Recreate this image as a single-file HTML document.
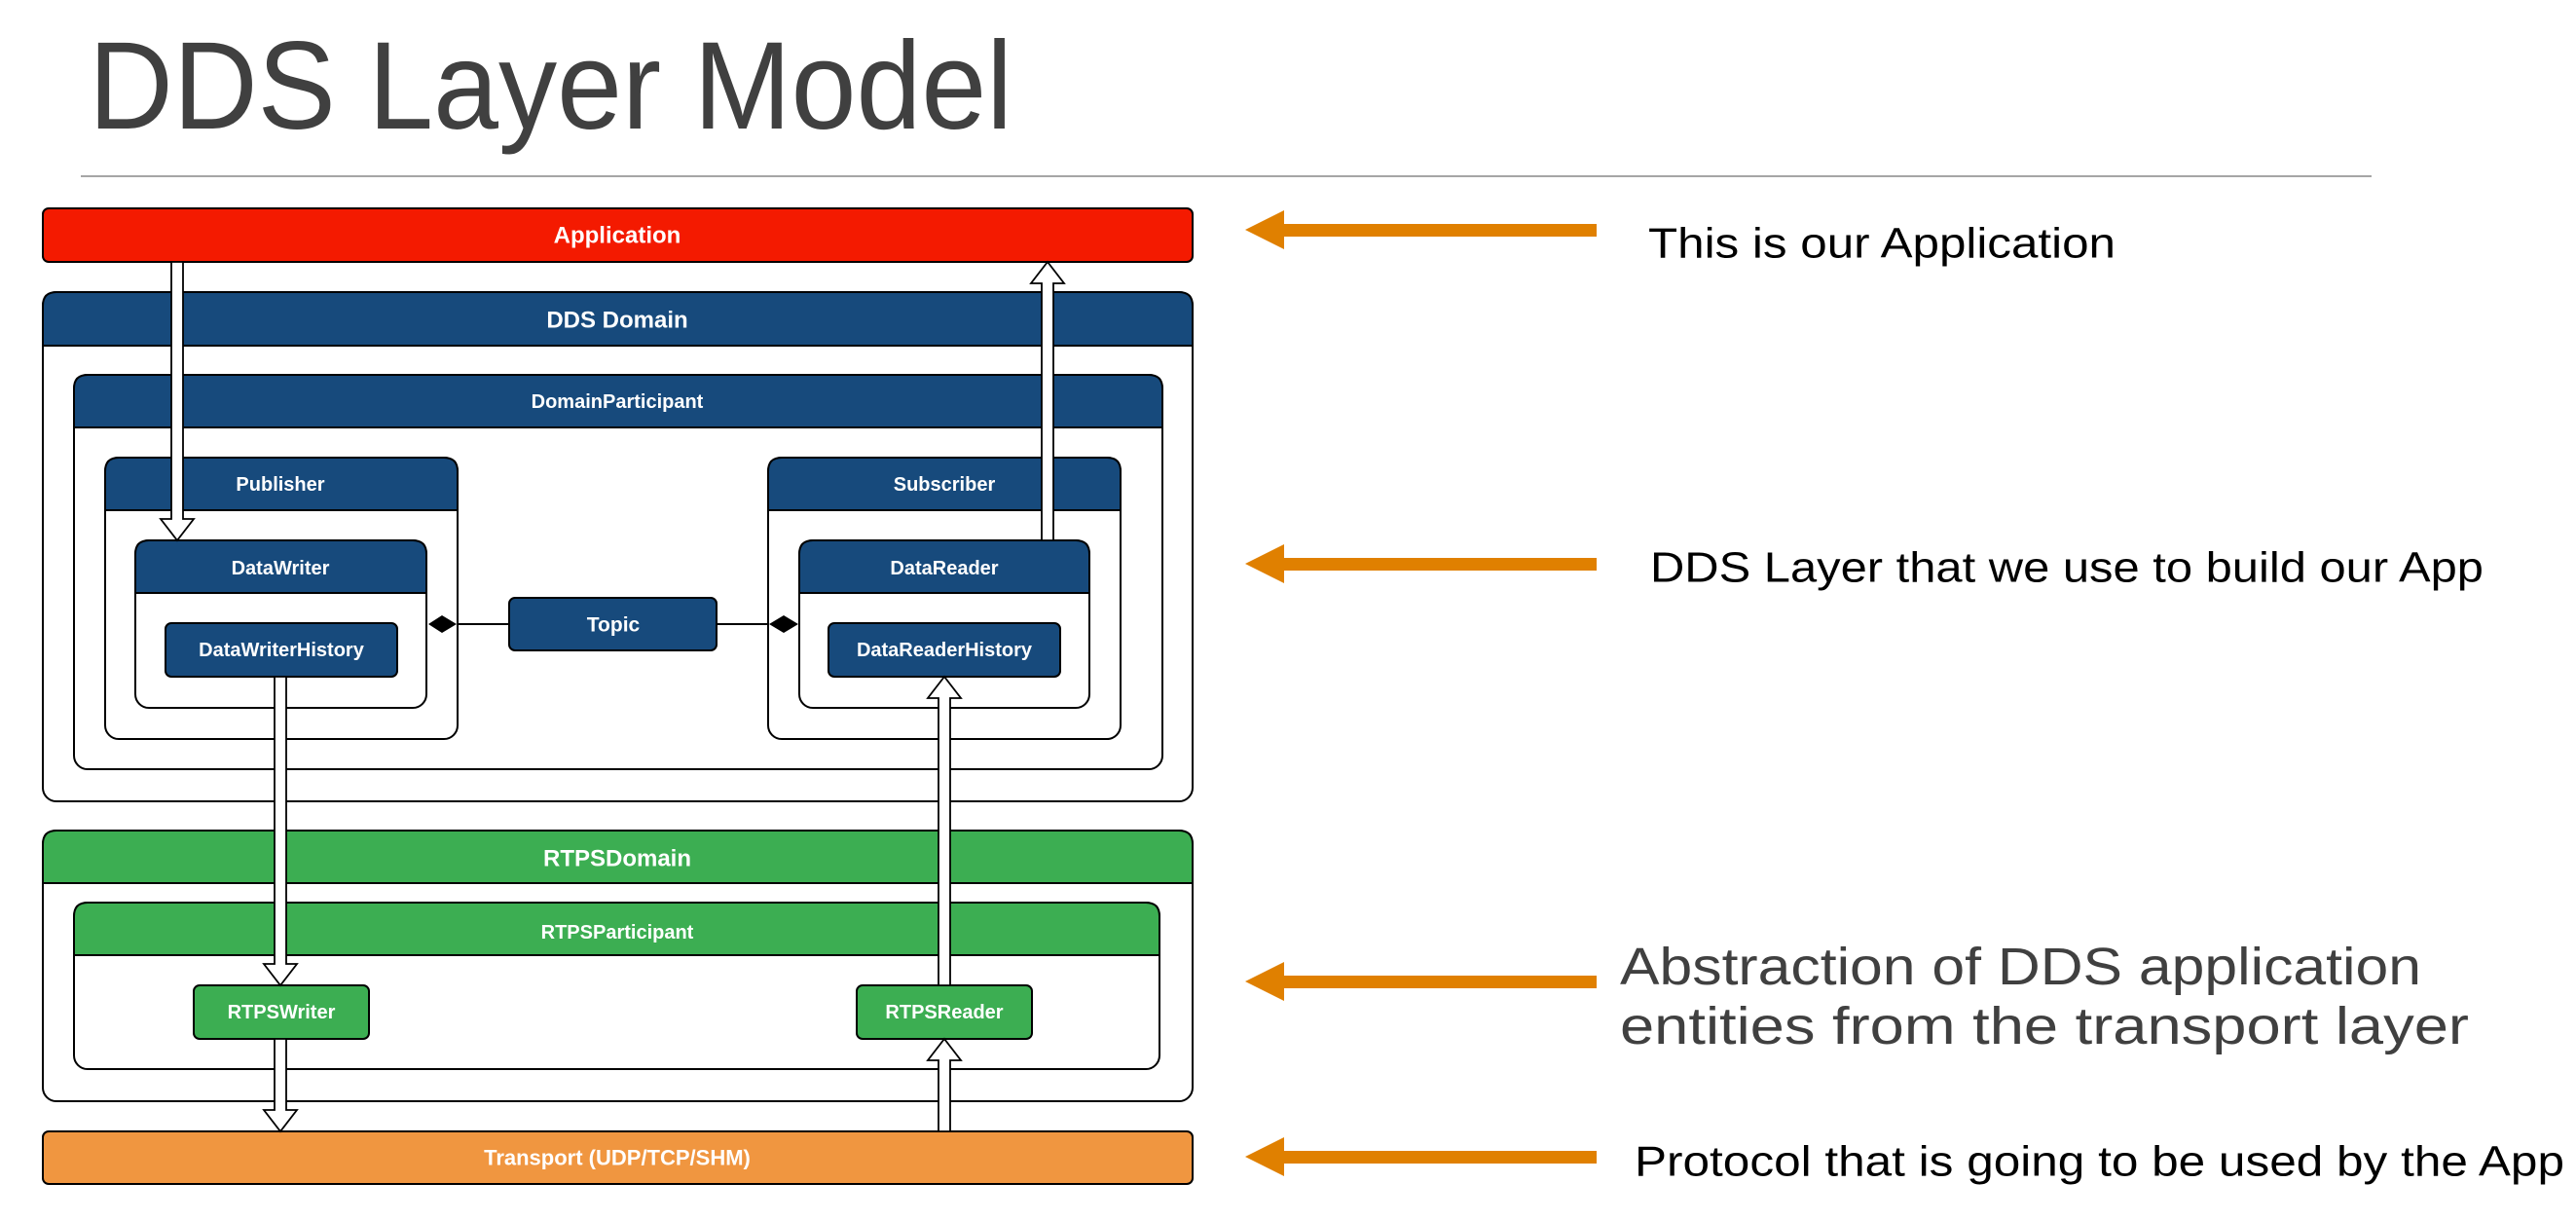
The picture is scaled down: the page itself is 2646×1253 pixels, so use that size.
<!DOCTYPE html>
<html><head><meta charset="utf-8"><style>
html,body{margin:0;padding:0;background:#fff;}
svg{display:block;}
.h{font-family:"Liberation Sans",Arial,sans-serif;font-weight:bold;fill:#fff;text-anchor:middle;dominant-baseline:central;}
.r{font-family:"Liberation Sans",sans-serif;}
</style></head><body>
<svg width="2646" height="1253" viewBox="0 0 2646 1253" xmlns="http://www.w3.org/2000/svg">
<text x="91" y="132" class="r" font-size="128" fill="#404040" textLength="949" lengthAdjust="spacingAndGlyphs">DDS Layer Model</text>
<line x1="83" y1="181" x2="2436" y2="181" stroke="#a6a6a6" stroke-width="2"/>

<g stroke="#000" stroke-width="2">
<rect x="44" y="214" width="1181" height="55" rx="6" fill="#f41a00"/>
<!-- DDS Domain -->
<rect x="44" y="300" width="1181" height="523" rx="14" fill="#fff"/>
<path d="M44 355 V314 Q44 300 58 300 H1211 Q1225 300 1225 314 V355 Z" fill="#174a7c"/>
<rect x="76" y="385" width="1118" height="405" rx="14" fill="#fff"/>
<path d="M76 439 V399 Q76 385 90 385 H1180 Q1194 385 1194 399 V439 Z" fill="#174a7c"/>
<rect x="108" y="470" width="362" height="289" rx="14" fill="#fff"/>
<path d="M108 524 V484 Q108 470 122 470 H456 Q470 470 470 484 V524 Z" fill="#174a7c"/>
<rect x="789" y="470" width="362" height="289" rx="14" fill="#fff"/>
<path d="M789 524 V484 Q789 470 803 470 H1137 Q1151 470 1151 484 V524 Z" fill="#174a7c"/>
<rect x="139" y="555" width="299" height="172" rx="14" fill="#fff"/>
<path d="M139 609 V569 Q139 555 153 555 H424 Q438 555 438 569 V609 Z" fill="#174a7c"/>
<rect x="821" y="555" width="298" height="172" rx="14" fill="#fff"/>
<path d="M821 609 V569 Q821 555 835 555 H1105 Q1119 555 1119 569 V609 Z" fill="#174a7c"/>
<rect x="170" y="640" width="238" height="55" rx="6" fill="#174a7c"/>
<rect x="851" y="640" width="238" height="55" rx="6" fill="#174a7c"/>
<rect x="523" y="614" width="213" height="54" rx="6" fill="#174a7c"/>
<line x1="469" y1="641" x2="523" y2="641"/>
<line x1="736" y1="641" x2="790" y2="641"/>
<polygon points="440,641 454,632 469,641 454,650" fill="#000" stroke="none"/>
<polygon points="790,641 805,632 820,641 805,650" fill="#000" stroke="none"/>
<!-- RTPS -->
<rect x="44" y="853" width="1181" height="278" rx="14" fill="#fff"/>
<path d="M44 907 V867 Q44 853 58 853 H1211 Q1225 853 1225 867 V907 Z" fill="#3cae52"/>
<rect x="76" y="927" width="1115" height="171" rx="14" fill="#fff"/>
<path d="M76 981 V941 Q76 927 90 927 H1177 Q1191 927 1191 941 V981 Z" fill="#3cae52"/>
<rect x="199" y="1012" width="180" height="55" rx="6" fill="#3cae52"/>
<rect x="880" y="1012" width="180" height="55" rx="6" fill="#3cae52"/>
<rect x="44" y="1162" width="1181" height="54" rx="6" fill="#f09640"/>
<!-- arrows -->
<g fill="#fff" stroke-width="1.8">
<polygon points="176,269 188,269 188,533 199,533 182,555 165,533 176,533"/>
<polygon points="1070,555 1082,555 1082,291 1093,291 1076,269 1059,291 1070,291"/>
<polygon points="282,695 294,695 294,990 305,990 288,1012 271,990 282,990"/>
<polygon points="964,1012 976,1012 976,717 987,717 970,695 953,717 964,717"/>
<polygon points="282,1067 294,1067 294,1140 305,1140 288,1162 271,1140 282,1140"/>
<polygon points="964,1162 976,1162 976,1089 987,1089 970,1067 953,1089 964,1089"/>
</g>
</g>

<text class="h" x="634" y="242" font-size="24">Application</text>
<text class="h" x="634" y="329" font-size="24">DDS Domain</text>
<text class="h" x="634" y="413" font-size="20">DomainParticipant</text>
<text class="h" x="288" y="498" font-size="20">Publisher</text>
<text class="h" x="970" y="498" font-size="20">Subscriber</text>
<text class="h" x="288" y="584" font-size="20">DataWriter</text>
<text class="h" x="970" y="584" font-size="20">DataReader</text>
<text class="h" x="289" y="668" font-size="20">DataWriterHistory</text>
<text class="h" x="970" y="668" font-size="20">DataReaderHistory</text>
<text class="h" x="630" y="642" font-size="21">Topic</text>
<text class="h" x="634" y="882" font-size="24">RTPSDomain</text>
<text class="h" x="634" y="958" font-size="20">RTPSParticipant</text>
<text class="h" x="289" y="1040" font-size="20">RTPSWriter</text>
<text class="h" x="970" y="1040" font-size="20">RTPSReader</text>
<text class="h" x="634" y="1189" font-size="22">Transport (UDP/TCP/SHM)</text>

<g fill="#e08000">
<rect x="1310" y="230" width="330" height="13"/><polygon points="1279,236 1319,216 1319,256"/>
<rect x="1310" y="573" width="330" height="13"/><polygon points="1279,579 1319,559 1319,599"/>
<rect x="1310" y="1002" width="330" height="13"/><polygon points="1279,1008 1319,988 1319,1028"/>
<rect x="1310" y="1182" width="330" height="13"/><polygon points="1279,1188 1319,1168 1319,1208"/>
</g>
<g class="r" dominant-baseline="central">
<text x="1693" y="250" font-size="44" fill="#000" textLength="480" lengthAdjust="spacingAndGlyphs" dominant-baseline="central">This is our Application</text>
<text x="1695" y="583" font-size="44" fill="#000" textLength="856" lengthAdjust="spacingAndGlyphs" dominant-baseline="central">DDS Layer that we use to build our App</text>
<text x="1664" y="993" font-size="54" fill="#404040" textLength="823" lengthAdjust="spacingAndGlyphs" dominant-baseline="central">Abstraction of DDS application</text>
<text x="1664" y="1054" font-size="54" fill="#404040" textLength="872" lengthAdjust="spacingAndGlyphs" dominant-baseline="central">entities from the transport layer</text>
<text x="1679" y="1193" font-size="44" fill="#000" textLength="955" lengthAdjust="spacingAndGlyphs" dominant-baseline="central">Protocol that is going to be used by the App</text>
</g>
</svg>
</body></html>
